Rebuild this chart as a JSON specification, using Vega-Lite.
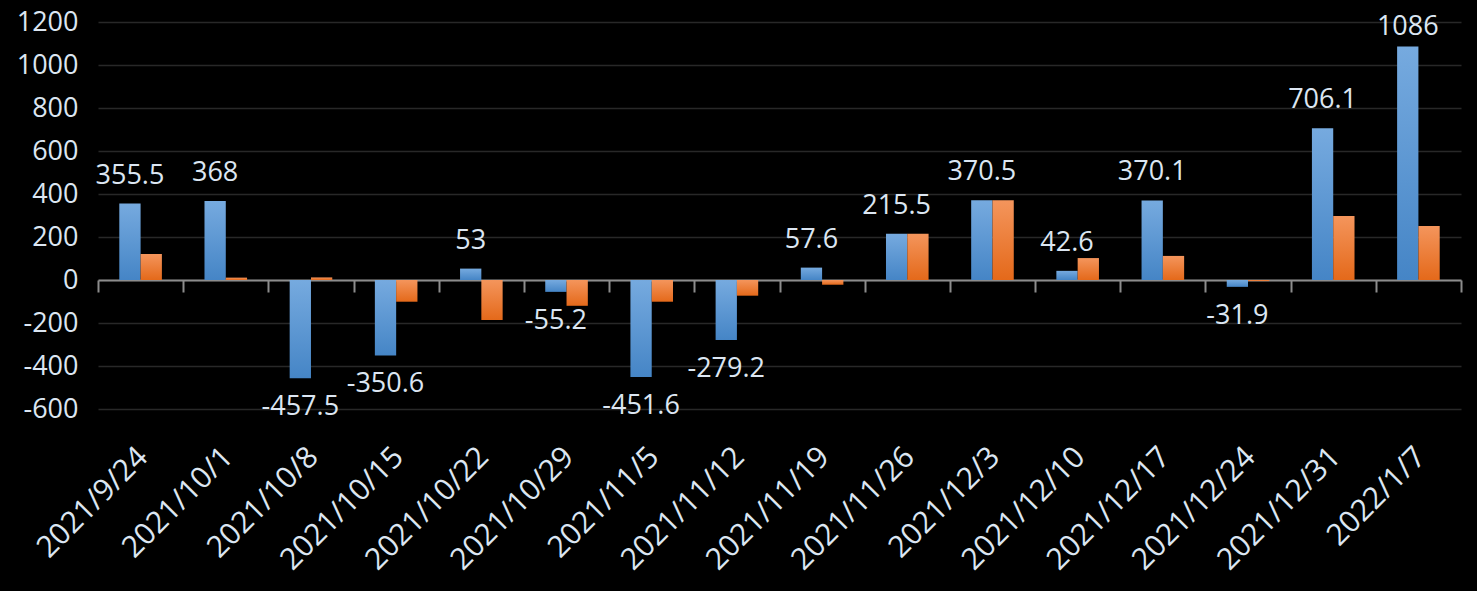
{
  "$schema": "https://vega.github.io/schema/vega-lite/v6.json",
  "autosize": "none",
  "padding": {"left": 98, "top": 22, "right": 16, "bottom": 182},
  "width": 1363,
  "height": 387,
  "background": "#000000",
  "config": {
    "view": {"stroke": null},
    "font": "Open Sans",
    "axis": {"labelFont": "Open Sans", "labelColor": "#dce6f2"}
  },
  "data": {
    "values": [
      {"date": "2021/9/24", "series": "A", "value": 355.5},
      {"date": "2021/9/24", "series": "B", "value": 121},
      {"date": "2021/10/1", "series": "A", "value": 368},
      {"date": "2021/10/1", "series": "B", "value": 11},
      {"date": "2021/10/8", "series": "A", "value": -457.5},
      {"date": "2021/10/8", "series": "B", "value": 12},
      {"date": "2021/10/15", "series": "A", "value": -350.6},
      {"date": "2021/10/15", "series": "B", "value": -101},
      {"date": "2021/10/22", "series": "A", "value": 53},
      {"date": "2021/10/22", "series": "B", "value": -186},
      {"date": "2021/10/29", "series": "A", "value": -55.2},
      {"date": "2021/10/29", "series": "B", "value": -120},
      {"date": "2021/11/5", "series": "A", "value": -451.6},
      {"date": "2021/11/5", "series": "B", "value": -101},
      {"date": "2021/11/12", "series": "A", "value": -279.2},
      {"date": "2021/11/12", "series": "B", "value": -73},
      {"date": "2021/11/19", "series": "A", "value": 57.6},
      {"date": "2021/11/19", "series": "B", "value": -22},
      {"date": "2021/11/26", "series": "A", "value": 215.5},
      {"date": "2021/11/26", "series": "B", "value": 215.5},
      {"date": "2021/12/3", "series": "A", "value": 370.5},
      {"date": "2021/12/3", "series": "B", "value": 370.5},
      {"date": "2021/12/10", "series": "A", "value": 42.6},
      {"date": "2021/12/10", "series": "B", "value": 102},
      {"date": "2021/12/17", "series": "A", "value": 370.1},
      {"date": "2021/12/17", "series": "B", "value": 112},
      {"date": "2021/12/24", "series": "A", "value": -31.9},
      {"date": "2021/12/24", "series": "B", "value": -5},
      {"date": "2021/12/31", "series": "A", "value": 706.1},
      {"date": "2021/12/31", "series": "B", "value": 298},
      {"date": "2022/1/7", "series": "A", "value": 1086},
      {"date": "2022/1/7", "series": "B", "value": 251}
    ]
  },
  "encoding": {
    "x": {
      "field": "date",
      "type": "nominal",
      "sort": null,
      "title": null,
      "scale": {"paddingInner": 0, "paddingOuter": 0},
      "axis": {
        "offset": -129,
        "tickBand": "extent",
        "tickSize": 12,
        "tickWidth": 2,
        "tickColor": "#8c8c8c",
        "domainColor": "#8c8c8c",
        "domainWidth": 2,
        "labelAngle": -45,
        "labelAlign": "right",
        "labelBaseline": "middle",
        "labelFontSize": 30,
        "labelPadding": 160,
        "labelOffset": 2,
        "grid": false
      }
    },
    "xOffset": {
      "field": "series",
      "type": "nominal",
      "scale": {"domain": ["A", "B"], "paddingInner": 0, "paddingOuter": 1.39}
    },
    "y": {
      "field": "value",
      "type": "quantitative",
      "title": null,
      "scale": {"domain": [-600, 1200], "nice": false, "zero": true},
      "axis": {
        "values": [-600, -400, -200, 0, 200, 400, 600, 800, 1000, 1200],
        "labelExpr": "'' + datum.value",
        "domain": false,
        "ticks": false,
        "labelFontSize": 27,
        "labelPadding": 20,
        "gridColor": "#282828",
        "gridWidth": 1.5
      }
    }
  },
  "layer": [
    {
      "transform": [{"filter": "datum.series === 'A'"}],
      "mark": {
        "type": "bar",
        "color": {
          "gradient": "linear", "x1": 0, "y1": 0, "x2": 0, "y2": 1,
          "stops": [{"offset": 0, "color": "#76aadf"}, {"offset": 1, "color": "#4585c6"}]
        }
      }
    },
    {
      "transform": [{"filter": "datum.series === 'B'"}],
      "mark": {
        "type": "bar",
        "color": {
          "gradient": "linear", "x1": 0, "y1": 0, "x2": 0, "y2": 1,
          "stops": [{"offset": 0, "color": "#f4955c"}, {"offset": 1, "color": "#e4691a"}]
        }
      }
    },
    {
      "transform": [{"filter": "datum.series === 'A' && datum.value >= 0 && datum.value < 1000"}],
      "mark": {"type": "text", "baseline": "alphabetic", "dy": -20, "fontSize": 27, "color": "#dce6f2"},
      "encoding": {"text": {"field": "value", "type": "nominal"}}
    },
    {
      "transform": [{"filter": "datum.series === 'A' && datum.value >= 1000"}],
      "mark": {"type": "text", "baseline": "alphabetic", "dy": -12, "fontSize": 27, "color": "#dce6f2"},
      "encoding": {"text": {"field": "value", "type": "nominal"}}
    },
    {
      "transform": [{"filter": "datum.series === 'A' && datum.value < 0"}],
      "mark": {"type": "text", "baseline": "alphabetic", "dy": 37, "fontSize": 27, "color": "#dce6f2"},
      "encoding": {"text": {"field": "value", "type": "nominal"}}
    }
  ]
}
